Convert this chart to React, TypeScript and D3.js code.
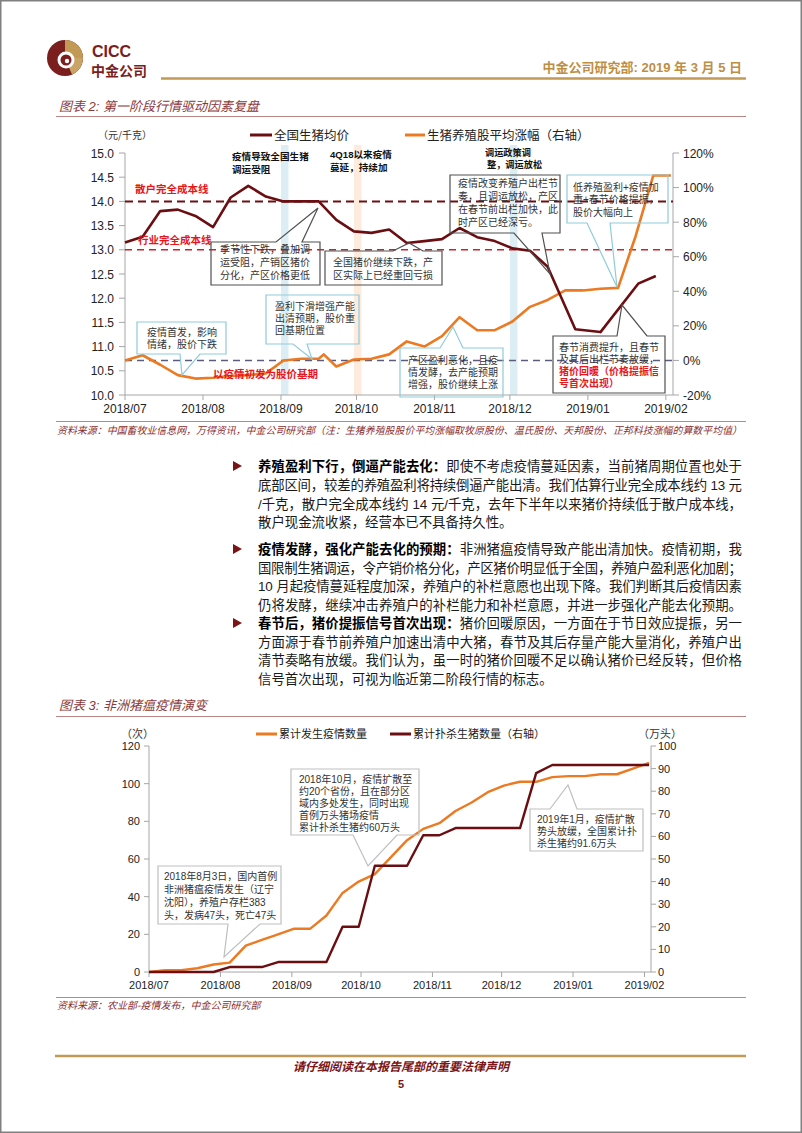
import React from 'react';
import * as d3 from 'd3';

const parse = d3.timeParse('%Y-%m-%d');

// 图表2: 全国生猪均价 (元/千克)
const priceDates = ['2018-07-01', '2018-07-08', '2018-07-15', '2018-07-22', '2018-07-29', '2018-08-05', '2018-08-12', '2018-08-19', '2018-08-26', '2018-09-02', '2018-09-09', '2018-09-16', '2018-09-23', '2018-09-30', '2018-10-07', '2018-10-14', '2018-10-21', '2018-10-28', '2018-11-04', '2018-11-11', '2018-11-18', '2018-11-25', '2018-12-02', '2018-12-09', '2018-12-16', '2018-12-27', '2019-01-06', '2019-01-21', '2019-01-28'];
const priceValues = [13.15, 13.27, 13.8, 13.83, 13.7, 13.47, 14.08, 14.32, 14.1, 14.0, 14.0, 14.0, 13.62, 13.38, 13.35, 13.42, 13.14, 13.18, 13.22, 13.45, 13.26, 13.18, 13.03, 12.98, 12.65, 11.36, 11.3, 12.3, 12.46];

// 图表2: 生猪养殖股平均涨幅 (%, 右轴)
const stockDates = ['2018-07-01', '2018-07-08', '2018-07-15', '2018-07-22', '2018-07-29', '2018-08-05', '2018-08-12', '2018-08-19', '2018-08-26', '2018-09-02', '2018-09-09', '2018-09-16', '2018-09-18', '2018-09-23', '2018-09-30', '2018-10-07', '2018-10-14', '2018-10-21', '2018-10-28', '2018-11-04', '2018-11-11', '2018-11-18', '2018-11-25', '2018-12-02', '2018-12-09', '2018-12-16', '2018-12-23', '2018-12-30', '2019-01-06', '2019-01-13', '2019-01-20', '2019-01-27', '2019-02-03'];
const stockValues = [0, 3, -2.5, -8.5, -10.5, -10, -9, -8.5, -7.5, 0, 1, 1, 3.5, -3.5, 0.5, 1, 3.5, 11, 8, 14, 25, 17.5, 17.5, 22.5, 31, 35, 40.5, 40.5, 41.5, 42, 72, 107, 107];

const leftTicks1 = [10, 10.5, 11, 11.5, 12, 12.5, 13, 13.5, 14, 14.5, 15];
const rightTicks1 = [-20, 0, 20, 40, 60, 80, 100, 120];

// 图表3: 累计发生疫情数量 (次)
const outbreakDates = ['2018-07-01', '2018-07-08', '2018-07-15', '2018-07-22', '2018-07-29', '2018-08-05', '2018-08-12', '2018-08-19', '2018-08-26', '2018-09-02', '2018-09-09', '2018-09-16', '2018-09-23', '2018-09-30', '2018-10-07', '2018-10-14', '2018-10-21', '2018-10-28', '2018-11-04', '2018-11-11', '2018-11-18', '2018-11-25', '2018-12-02', '2018-12-09', '2018-12-16', '2018-12-23', '2018-12-30', '2019-01-06', '2019-01-13', '2019-01-20', '2019-01-27', '2019-02-03'];
const outbreakValues = [0, 1, 1, 2, 4, 5, 14, 17, 20, 23, 23, 30, 42, 48, 52, 61, 70, 76, 79, 85.5, 90, 95.5, 99, 101, 101, 103.5, 104, 104, 105, 105, 108, 111];

// 图表3: 累计扑杀生猪数量 (万头, 右轴)
const cullDates = ['2018-07-01', '2018-07-29', '2018-08-05', '2018-08-19', '2018-08-26', '2018-09-16', '2018-09-23', '2018-09-30', '2018-10-07', '2018-10-21', '2018-10-28', '2018-11-04', '2018-11-11', '2018-12-09', '2018-12-16', '2018-12-23', '2019-02-03'];
const cullValues = [0, 0, 2.2, 2.2, 4.4, 4.4, 20, 20, 47, 47, 60.5, 60.5, 63.7, 63.7, 88, 91.6, 91.6];

const leftTicks2 = [0, 20, 40, 60, 80, 100, 120];
const rightTicks2 = [0, 10, 20, 30, 40, 50, 60, 70, 80, 90, 100];

const CJK = '"Noto Sans CJK SC", sans-serif';
const MIX = '"Liberation Sans", "Noto Sans CJK SC", sans-serif';
const LAT = '"Liberation Sans", Arial, sans-serif';

const MAROON = '#6B0E12';
const ORANGE = '#EC7A22';
const RED = '#E8161B';
const GOLD = '#C39A55';
const AXIS = '#A6A6A6';
const BLUEBOX = '#8FCBDB';
const GRAYBOX = '#BFBFBF';
const DARKBOX = '#505050';

type Line = { t: string; c?: string; b?: boolean };

type CalloutProps = {
  x: number; y: number; w: number; h: number;
  side: 'top' | 'bottom'; b1: number; b2: number; tip: [number, number];
  stroke: string; lines: Line[]; fs: number; lh: number; first: number; pad: number;
};

const Callout = ({ x, y, w, h, side, b1, b2, tip, stroke, lines, fs, lh, first, pad }: CalloutProps) => {
  const path = d3.path();
  if (side === 'top') {
    path.moveTo(x, y);
    path.lineTo(b1, y);
    path.lineTo(tip[0], tip[1]);
    path.lineTo(b2, y);
    path.lineTo(x + w, y);
    path.lineTo(x + w, y + h);
    path.lineTo(x, y + h);
  } else {
    path.moveTo(x, y);
    path.lineTo(x + w, y);
    path.lineTo(x + w, y + h);
    path.lineTo(b2, y + h);
    path.lineTo(tip[0], tip[1]);
    path.lineTo(b1, y + h);
    path.lineTo(x, y + h);
  }
  path.closePath();
  return (
    <g>
      <path d={path.toString()} fill="none" stroke={stroke} strokeWidth={1.2} />
      {lines.map((l, i) => (
        <text key={i} x={x + pad} y={y + first + i * lh} fontSize={fs} fill={l.c || '#333'}
          fontWeight={l.b ? 'bold' : 'normal'} fontFamily={MIX}>{l.t}</text>
      ))}
    </g>
  );
};

const Bullet = ({ y }: { y: number }) => (
  <path d={`M233,${y - 5} L242,${y} L233,${y + 5} Z`} fill="#7A1416" />
);

export default function App() {
  const start = parse('2018-07-01')!;
  const end = new Date(2019, 1, 3, 20);
  const months = d3.timeMonth.range(start, new Date(2019, 1, 2));
  const fmtMonth = d3.timeFormat('%Y/%m');

  // chart 1 scales
  const x1 = d3.scaleTime().domain([start, end]).range([125, 673]);
  const yL1 = d3.scaleLinear().domain([10, 15]).range([395, 153]);
  const yR1 = d3.scaleLinear().domain([-20, 120]).range([395, 153]);

  const price = priceDates.map((d, i) => ({ date: parse(d)!, v: priceValues[i] }));
  const stock = stockDates.map((d, i) => ({ date: parse(d)!, v: stockValues[i] }));
  const priceLine = d3.line<{ date: Date; v: number }>().x(d => x1(d.date)).y(d => yL1(d.v));
  const stockLine = d3.line<{ date: Date; v: number }>().x(d => x1(d.date)).y(d => yR1(d.v));

  const bands = [
    { from: '2018-09-01', to: '2018-09-04', c: '#DCEEF4' },
    { from: '2018-09-30', to: '2018-10-03', c: '#FDEBDD' },
    { from: '2018-12-01', to: '2018-12-04', c: '#DCEEF4' },
  ];

  // chart 2 scales
  const x2 = d3.scaleTime().domain([start, end]).range([149, 651]);
  const yL2 = d3.scaleLinear().domain([0, 120]).range([972, 746]);
  const yR2 = d3.scaleLinear().domain([0, 100]).range([972, 746]);
  const outbreak = outbreakDates.map((d, i) => ({ date: parse(d)!, v: outbreakValues[i] }));
  const cull = cullDates.map((d, i) => ({ date: parse(d)!, v: cullValues[i] }));
  const outbreakLine = d3.line<{ date: Date; v: number }>().x(d => x2(d.date)).y(d => yL2(d.v));
  const cullLine = d3.line<{ date: Date; v: number }>().x(d => x2(d.date)).y(d => yR2(d.v));

  const bodyX = 258;
  const bodyW = 484;
  const bfs = 13.4;

  return (
    <div style={{ position: 'absolute', left: 0, top: 0 }}>
      <svg width={802} height={1133} style={{ display: 'block', background: '#fff' }}>
        <rect x={0.75} y={0.75} width={800.5} height={1131.5} fill="#fff" stroke="#808080" strokeWidth={1.5} />

        {/* header */}
        <circle cx={65} cy={58} r={18} fill="#7A1E1E" />
        <path d="M65,40 A18,18 0 0 1 83,58 L65,58 Z" fill={GOLD} />
        <path d="M83,58 A18,18 0 0 1 72,74.6 L65,58 Z" fill="#C9A466" />
        <circle cx={66} cy={60} r={8.5} fill="#fff" />
        <circle cx={66} cy={60} r={5.5} fill="#7A1E1E" />
        <circle cx={67} cy={61} r={2.2} fill="#fff" />
        <text x={92} y={57} fontSize={16} fontWeight="bold" fill="#7A1E1E" fontFamily={LAT}>CICC</text>
        <text x={91} y={76} fontSize={14} fontWeight="bold" fill="#7A1E1E" fontFamily={CJK}>中金公司</text>
        <text x={742} y={72} fontSize={13} fontWeight="bold" fill="#BE8E45" fontFamily={MIX} textAnchor="end">中金公司研究部: 2019 年 3 月 5 日</text>
        <line x1={161} x2={746} y1={78.5} y2={78.5} stroke={GOLD} strokeWidth={2.5} />

        {/* chart 1 title */}
        <text x={59} y={111} fontSize={13} fontStyle="italic" fill="#8A3A3A" fontFamily={MIX}>图表 2: 第一阶段行情驱动因素复盘</text>
        <line x1={56} x2={746} y1={116.5} y2={116.5} stroke="#B98585" strokeWidth={1} />

        {/* chart 1 legend */}
        <text x={98} y={139} fontSize={10} fill="#333" fontFamily={CJK}>（元/千克）</text>
        <line x1={250} x2={272} y1={135} y2={135} stroke={MAROON} strokeWidth={3} />
        <text x={274} y={139.5} fontSize={12.5} fill="#222" fontFamily={CJK}>全国生猪均价</text>
        <line x1={405} x2={425} y1={135} y2={135} stroke={ORANGE} strokeWidth={3} />
        <text x={427} y={139.5} fontSize={12.5} fill="#222" fontFamily={CJK}>生猪养殖股平均涨幅（右轴）</text>

        {/* bands */}
        {bands.map((b, i) => (
          <rect key={i} x={x1(parse(b.from)!)} y={145} width={x1(parse(b.to)!) - x1(parse(b.from)!)} height={250} fill={b.c} />
        ))}

        {/* chart 1 axes */}
        <line x1={125} x2={125} y1={153} y2={395} stroke={AXIS} />
        {leftTicks1.map(t => (
          <g key={t}>
            <line x1={119} x2={125} y1={yL1(t)} y2={yL1(t)} stroke={AXIS} />
            <text x={114} y={yL1(t) + 4.5} fontSize={12} textAnchor="end" fill="#222" fontFamily={LAT}>{t.toFixed(1)}</text>
          </g>
        ))}
        <line x1={673} x2={673} y1={153} y2={395} stroke={AXIS} />
        {rightTicks1.map(t => (
          <g key={t}>
            <line x1={673} x2={679} y1={yR1(t)} y2={yR1(t)} stroke={AXIS} />
            <text x={683} y={yR1(t) + 4.5} fontSize={12} fill="#222" fontFamily={LAT}>{t}%</text>
          </g>
        ))}
        <line x1={125} x2={673} y1={395} y2={395} stroke={AXIS} />
        {months.map(m => (
          <g key={+m}>
            <line x1={x1(m)} x2={x1(m)} y1={395} y2={400} stroke={AXIS} />
            <text x={x1(m)} y={412.5} fontSize={12} textAnchor="middle" fill="#222" fontFamily={LAT}>{fmtMonth(m)}</text>
          </g>
        ))}

        {/* reference lines */}
        <line x1={125} x2={673} y1={yL1(14)} y2={yL1(14)} stroke="#6E0F14" strokeWidth={2} strokeDasharray="8,5" />
        <line x1={125} x2={673} y1={yL1(13)} y2={yL1(13)} stroke="#C8242B" strokeWidth={1.6} strokeDasharray="7,5" />
        <line x1={125} x2={673} y1={yR1(0)} y2={yR1(0)} stroke="#5C5C7E" strokeWidth={1.6} strokeDasharray="7,5" />

        {/* series */}
        <path d={stockLine(stock)!} fill="none" stroke={ORANGE} strokeWidth={2.6} strokeLinejoin="round" />
        <path d={priceLine(price)!} fill="none" stroke={MAROON} strokeWidth={2.6} strokeLinejoin="round" />

        {/* labels */}
        <text x={135} y={193} fontSize={10.5} fontWeight="bold" fill={RED} fontFamily={CJK}>散户完全成本线</text>
        <text x={138} y={244} fontSize={10.5} fontWeight="bold" fill={RED} fontFamily={CJK}>行业完全成本线</text>
        <text x={213} y={378} fontSize={10.5} fontWeight="bold" fill={RED} fontFamily={CJK}>以疫情初发为股价基期</text>
        <text x={232} y={160} fontSize={9.6} fontWeight="bold" fill="#111" fontFamily={CJK}>疫情导致全国生猪</text>
        <text x={232} y={173} fontSize={9.6} fontWeight="bold" fill="#111" fontFamily={CJK}>调运受阻</text>
        <text x={330} y={158} fontSize={9.6} fontWeight="bold" fill="#111" fontFamily={MIX}>4Q18以来疫情</text>
        <text x={330} y={171} fontSize={9.6} fontWeight="bold" fill="#111" fontFamily={CJK}>蔓延，持续加</text>
        <text x={485} y={156} fontSize={9.2} fontWeight="bold" fill="#111" fontFamily={CJK}>调运政策调</text>
        <text x={487} y={168} fontSize={9.2} fontWeight="bold" fill="#111" fontFamily={CJK}>整，调运放松</text>

        {/* callouts chart 1 */}
        <Callout x={211} y={242} w={109} h={43} side="top" b1={276} b2={302} tip={[318, 208]} stroke={DARKBOX}
          fs={10} lh={13} first={10.5} pad={9}
          lines={[{ t: '季节性下跌，叠加调' }, { t: '运受阻，产销区猪价' }, { t: '分化，产区价格更低' }]} />
        <Callout x={325} y={251} w={117} h={34} side="top" b1={393} b2={423} tip={[409, 243]} stroke={DARKBOX}
          fs={10} lh={13} first={14.5} pad={8}
          lines={[{ t: '全国猪价继续下跌，产' }, { t: '区实际上已经重回亏损' }]} />
        <Callout x={450} y={175} w={110} h={58} side="bottom" b1={514} b2={542} tip={[550, 274]} stroke={DARKBOX}
          fs={10} lh={13} first={11.5} pad={8}
          lines={[{ t: '疫情改变养殖户出栏节' }, { t: '奏，且调运放松，产区' }, { t: '在春节前出栏加快，此' }, { t: '时产区已经深亏。' }]} />
        <Callout x={567} y={175} w={101} h={48} side="bottom" b1={587} b2={610} tip={[617, 287]} stroke={BLUEBOX}
          fs={10} lh={12.5} first={15.5} pad={6}
          lines={[{ t: '低养殖盈利+疫情加' }, { t: '重+春节价格提振，' }, { t: '股价大幅向上' }]} />
        <Callout x={137} y={322} w={89} h={32} side="bottom" b1={180} b2={200} tip={[182, 375]} stroke={BLUEBOX}
          fs={10} lh={12} first={13.5} pad={10}
          lines={[{ t: '疫情首发，影响' }, { t: '情绪，股价下跌' }]} />
        <Callout x={266} y={295} w={93} h={49} side="bottom" b1={293} b2={307} tip={[312, 359]} stroke={BLUEBOX}
          fs={10} lh={12} first={14.5} pad={9}
          lines={[{ t: '盈利下滑增强产能' }, { t: '出清预期，股价重' }, { t: '回基期位置' }]} />
        <Callout x={400} y={348} w={103} h={49} side="top" b1={440} b2={463} tip={[453, 327]} stroke={BLUEBOX}
          fs={10} lh={12} first={15.5} pad={8}
          lines={[{ t: '产区盈利恶化，且疫' }, { t: '情发酵，去产能预期' }, { t: '增强，股价继续上涨' }]} />
        <Callout x={553} y={336} w={112} h={57} side="top" b1={617} b2={647} tip={[622, 305]} stroke={DARKBOX}
          fs={10} lh={12} first={14.5} pad={6}
          lines={[{ t: '春节消费提升，且春节' }, { t: '及其后出栏节奏放缓，' }, { t: '猪价回暖（价格提振信', c: RED, b: true }, { t: '号首次出现）', c: RED, b: true }]} />

        {/* source 1 */}
        <line x1={56} x2={746} y1={421.5} y2={421.5} stroke="#B98585" strokeWidth={1} />
        <text x={57} y={433.5} fontSize={10} fontStyle="italic" fill="#8A2E2E" fontFamily={CJK} textLength={685} lengthAdjust="spacingAndGlyphs">资料来源：中国畜牧业信息网，万得资讯，中金公司研究部（注：生猪养殖股股价平均涨幅取牧原股份、温氏股份、天邦股份、正邦科技涨幅的算数平均值）</text>

        {/* body text */}
        <g fontFamily={MIX} fontSize={bfs} fill="#1a1a1a">
          <Bullet y={466} />
          <text x={bodyX} y={471} textLength={bodyW} lengthAdjust="spacing"><tspan fontWeight="bold" fill="#000">养殖盈利下行，倒逼产能去化：</tspan>即使不考虑疫情蔓延因素，当前猪周期位置也处于</text>
          <text x={bodyX} y={490} textLength={bodyW} lengthAdjust="spacing">底部区间，较差的养殖盈利将持续倒逼产能出清。我们估算行业完全成本线约 13 元</text>
          <text x={bodyX} y={508.5} textLength={bodyW} lengthAdjust="spacing">/千克，散户完全成本线约 14 元/千克，去年下半年以来猪价持续低于散户成本线，</text>
          <text x={bodyX} y={527}>散户现金流收紧，经营本已不具备持久性。</text>

          <Bullet y={549} />
          <text x={bodyX} y={554} textLength={bodyW} lengthAdjust="spacing"><tspan fontWeight="bold" fill="#000">疫情发酵，强化产能去化的预期：</tspan>非洲猪瘟疫情导致产能出清加快。疫情初期，我</text>
          <text x={bodyX} y={572.5} textLength={bodyW} lengthAdjust="spacing">国限制生猪调运，令产销价格分化，产区猪价明显低于全国，养殖户盈利恶化加剧；</text>
          <text x={bodyX} y={591} textLength={bodyW} lengthAdjust="spacing">10 月起疫情蔓延程度加深，养殖户的补栏意愿也出现下降。我们判断其后疫情因素</text>
          <text x={bodyX} y={609.5} textLength={bodyW} lengthAdjust="spacing">仍将发酵，继续冲击养殖户的补栏能力和补栏意愿，并进一步强化产能去化预期。</text>

          <Bullet y={623} />
          <text x={bodyX} y={628} textLength={bodyW} lengthAdjust="spacing"><tspan fontWeight="bold" fill="#000">春节后，猪价提振信号首次出现：</tspan>猪价回暖原因，一方面在于节日效应提振，另一</text>
          <text x={bodyX} y={646.5} textLength={bodyW} lengthAdjust="spacing">方面源于春节前养殖户加速出清中大猪，春节及其后存量产能大量消化，养殖户出</text>
          <text x={bodyX} y={665} textLength={bodyW} lengthAdjust="spacing">清节奏略有放缓。我们认为，虽一时的猪价回暖不足以确认猪价已经反转，但价格</text>
          <text x={bodyX} y={683.5}>信号首次出现，可视为临近第二阶段行情的标志。</text>
        </g>

        {/* chart 2 title */}
        <text x={59} y={710} fontSize={13} fontStyle="italic" fill="#8A3A3A" fontFamily={MIX}>图表 3: 非洲猪瘟疫情演变</text>
        <line x1={56} x2={746} y1={716.5} y2={716.5} stroke="#B98585" strokeWidth={1} />

        {/* chart 2 legend */}
        <text x={121} y={738} fontSize={11} fill="#333" fontFamily={CJK}>（次）</text>
        <text x={638} y={738} fontSize={11} fill="#333" fontFamily={CJK}>（万头）</text>
        <line x1={256} x2={277} y1={734} y2={734} stroke={ORANGE} strokeWidth={3} />
        <text x={279} y={738} fontSize={11} fill="#222" fontFamily={CJK}>累计发生疫情数量</text>
        <line x1={390} x2={411} y1={734} y2={734} stroke={MAROON} strokeWidth={3} />
        <text x={413} y={738} fontSize={11} fill="#222" fontFamily={CJK}>累计扑杀生猪数量（右轴）</text>

        {/* chart 2 axes */}
        <line x1={149} x2={149} y1={746} y2={972} stroke={AXIS} />
        {leftTicks2.map(t => (
          <g key={t}>
            <line x1={144} x2={149} y1={yL2(t)} y2={yL2(t)} stroke={AXIS} />
            <text x={140} y={yL2(t) + 4} fontSize={11} textAnchor="end" fill="#222" fontFamily={LAT}>{t}</text>
          </g>
        ))}
        <line x1={651} x2={651} y1={746} y2={972} stroke={AXIS} />
        {rightTicks2.map(t => (
          <g key={t}>
            <line x1={651} x2={656} y1={yR2(t)} y2={yR2(t)} stroke={AXIS} />
            <text x={658} y={yR2(t) + 4} fontSize={11} fill="#222" fontFamily={LAT}>{t}</text>
          </g>
        ))}
        <line x1={149} x2={651} y1={972} y2={972} stroke={AXIS} />
        {months.map(m => (
          <g key={+m}>
            <line x1={x2(m)} x2={x2(m)} y1={972} y2={977} stroke={AXIS} />
            <text x={x2(m)} y={988.5} fontSize={11} textAnchor="middle" fill="#222" fontFamily={LAT}>{fmtMonth(m)}</text>
          </g>
        ))}

        <path d={outbreakLine(outbreak)!} fill="none" stroke={ORANGE} strokeWidth={2.4} strokeLinejoin="round" />
        <path d={cullLine(cull)!} fill="none" stroke={MAROON} strokeWidth={2.4} strokeLinejoin="round" />

        <Callout x={291} y={769} w={128} h={66} side="bottom" b1={353} b2={397} tip={[368, 866]} stroke={GRAYBOX}
          fs={10} lh={12} first={14} pad={8}
          lines={[{ t: '2018年10月，疫情扩散至' }, { t: '约20个省份，且在部分区' }, { t: '域内多处发生，同时出现' }, { t: '首例万头猪场疫情' }, { t: '累计扑杀生猪约60万头' }]} />
        <Callout x={158} y={866} w={123} h={58} side="bottom" b1={228} b2={260} tip={[224, 957]} stroke={GRAYBOX}
          fs={10} lh={13} first={13.5} pad={6}
          lines={[{ t: '2018年8月3日，国内首例' }, { t: '非洲猪瘟疫情发生（辽宁' }, { t: '沈阳），养殖户存栏383' }, { t: '头，发病47头，死亡47头' }]} />
        <Callout x={530} y={809} w={113} h={42} side="top" b1={550} b2={577} tip={[568, 785]} stroke={GRAYBOX}
          fs={10} lh={12} first={13.5} pad={7}
          lines={[{ t: '2019年1月，疫情扩散' }, { t: '势头放缓，全国累计扑' }, { t: '杀生猪约91.6万头' }]} />

        {/* source 2 */}
        <line x1={56} x2={746} y1={997.5} y2={997.5} stroke="#B98585" strokeWidth={1} />
        <text x={57} y={1008.5} fontSize={10} fontStyle="italic" fill="#8A2E2E" fontFamily={CJK}>资料来源：农业部-疫情发布，中金公司研究部</text>

        {/* footer */}
        <line x1={55} x2={746} y1={1056} y2={1056} stroke={GOLD} strokeWidth={2.5} />
        <text x={401} y={1071} fontSize={12} fontStyle="italic" fontWeight="bold" fill="#7A1416" textAnchor="middle" fontFamily={CJK}>请仔细阅读在本报告尾部的重要法律声明</text>
        <text x={401} y={1088} fontSize={11} fontWeight="bold" fill="#7A1416" textAnchor="middle" fontFamily={LAT}>5</text>
      </svg>
    </div>
  );
}
